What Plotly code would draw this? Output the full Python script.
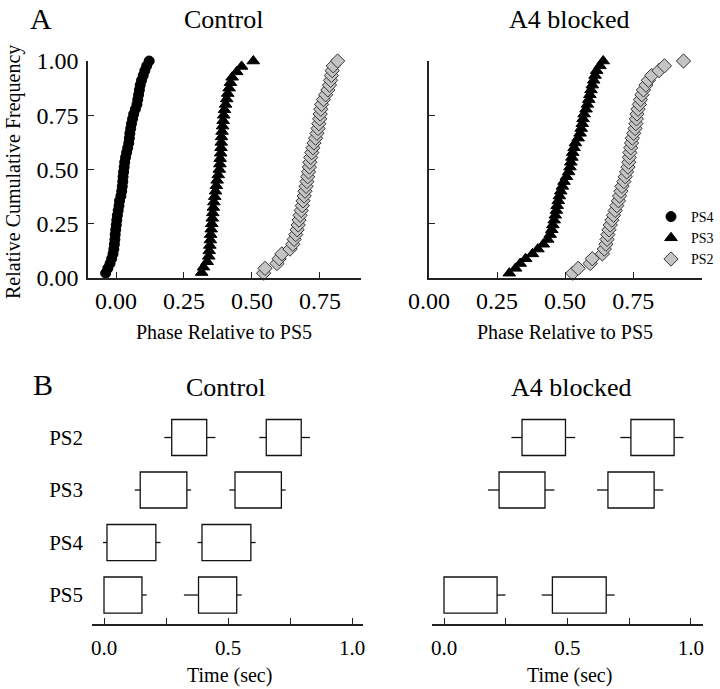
import plotly.graph_objects as go

FONT = "Liberation Serif"

# ---------------- Panel A data (phase relative to PS5) ----------------
ctrl_ps4 = [-0.038, -0.030, -0.022, -0.016, -0.011, -0.008, -0.006, -0.004, -0.003, -0.001,
            0.001, 0.003, 0.005, 0.008, 0.011, 0.013, 0.018, 0.021, 0.023, 0.025,
            0.026, 0.028, 0.030, 0.032, 0.035, 0.039, 0.043, 0.047, 0.049, 0.051,
            0.054, 0.057, 0.061, 0.065, 0.071, 0.077, 0.080, 0.083, 0.086, 0.089,
            0.094, 0.100, 0.106, 0.113, 0.122]
ctrl_ps3 = [0.315, 0.322, 0.335, 0.341, 0.343, 0.345, 0.347, 0.348, 0.350, 0.352,
            0.354, 0.356, 0.358, 0.360, 0.363, 0.366, 0.369, 0.372, 0.376, 0.380,
            0.382, 0.383, 0.385, 0.386, 0.387, 0.388, 0.390, 0.392, 0.394, 0.396,
            0.399, 0.403, 0.407, 0.411, 0.416, 0.421, 0.427, 0.444, 0.462, 0.505]
ctrl_ps2 = [0.543, 0.548, 0.592, 0.600, 0.610, 0.640, 0.650, 0.655, 0.661, 0.666,
            0.670, 0.673, 0.677, 0.681, 0.685, 0.688, 0.692, 0.695, 0.699, 0.702,
            0.705, 0.708, 0.711, 0.713, 0.716, 0.720, 0.724, 0.728, 0.734, 0.739,
            0.743, 0.746, 0.749, 0.751, 0.753, 0.756, 0.763, 0.771, 0.779, 0.785,
            0.789, 0.792, 0.795, 0.799, 0.815]
blk_ps3 = [0.295, 0.318, 0.335, 0.355, 0.380, 0.400, 0.420, 0.436, 0.445, 0.451,
           0.455, 0.460, 0.464, 0.468, 0.471, 0.475, 0.479, 0.484, 0.490, 0.496,
           0.505, 0.513, 0.518, 0.521, 0.525, 0.528, 0.533, 0.538, 0.548, 0.555,
           0.559, 0.563, 0.566, 0.570, 0.577, 0.582, 0.587, 0.591, 0.595, 0.600,
           0.605, 0.610, 0.616, 0.628, 0.640]
blk_ps2 = [0.528, 0.548, 0.592, 0.600, 0.637, 0.644, 0.650, 0.654, 0.657, 0.661,
           0.666, 0.672, 0.678, 0.684, 0.690, 0.696, 0.700, 0.705, 0.709, 0.716,
           0.721, 0.726, 0.731, 0.734, 0.736, 0.738, 0.741, 0.744, 0.747, 0.752,
           0.757, 0.760, 0.762, 0.764, 0.768, 0.773, 0.777, 0.782, 0.788, 0.797,
           0.806, 0.818, 0.845, 0.865, 0.935]

phase_ticks = [0.0, 0.25, 0.5, 0.75, 1.0]
phase_labels = ["0.00", "0.25", "0.50", "0.75", "1.00"]
freq_ticks = [0.0, 0.25, 0.5, 0.75, 1.0]
freq_labels = ["0.00", "0.25", "0.50", "0.75", "1.00"]

# ---------------- Panel B data (burst timing, sec) ----------------
row_names = ["PS2", "PS3", "PS4", "PS5"]
row_pos = {"PS2": 3, "PS3": 2, "PS4": 1, "PS5": 0}

ctrl_rows = ["PS2", "PS2", "PS3", "PS3", "PS4", "PS4", "PS5", "PS5"]
ctrl_wlo = [0.243, 0.626, 0.124, 0.505, -0.004, 0.377, 0.000, 0.322]
ctrl_lo = [0.273, 0.654, 0.146, 0.528, 0.012, 0.395, 0.000, 0.381]
ctrl_hi = [0.414, 0.795, 0.334, 0.715, 0.209, 0.592, 0.153, 0.535]
ctrl_whi = [0.449, 0.830, 0.351, 0.732, 0.228, 0.611, 0.172, 0.555]

blk_rows = ["PS2", "PS2", "PS3", "PS3", "PS5", "PS5"]
blk_wlo = [0.273, 0.714, 0.178, 0.620, 0.000, 0.396]
blk_lo = [0.316, 0.757, 0.223, 0.664, 0.000, 0.439]
blk_hi = [0.492, 0.932, 0.409, 0.851, 0.215, 0.657]
blk_whi = [0.531, 0.970, 0.447, 0.888, 0.249, 0.691]

time_ticks = [0.0, 0.25, 0.5, 0.75, 1.0]
time_labels = ["0.0", "", "0.5", "", "1.0"]

W, H = 720, 689
def px(x):
    return x / W
def py(y):
    return 1 - y / H

def ecdf(vals):
    n = len(vals)
    return [(i + 1) / n for i in range(n)]

circle = dict(symbol="circle", size=10, color="black", line=dict(color="black", width=1))
tri = dict(symbol="triangle-up", size=11, color="black", line=dict(color="black", width=1))
dia = dict(symbol="diamond", size=11, color="#c4c4c4", line=dict(color="#333333", width=1))

fig = go.Figure()

def add_cdf(vals, marker, name, xa, ya, show):
    fig.add_trace(go.Scatter(x=sorted(vals), y=ecdf(vals), mode="markers", marker=marker,
                             name=name, xaxis=xa, yaxis=ya, showlegend=show,
                             cliponaxis=False))

add_cdf(ctrl_ps4, circle, "PS4", "x", "y", True)
add_cdf(ctrl_ps3, tri, "PS3", "x", "y", True)
add_cdf(ctrl_ps2, dia, "PS2", "x", "y", True)
add_cdf(blk_ps3, tri, "PS3", "x2", "y2", False)
add_cdf(blk_ps2, dia, "PS2", "x2", "y2", False)

BOX_W = 0.686

def add_boxes(rows, wlo, lo, hi, whi, xa, ya):
    ys = [row_pos[r] for r in rows]
    fig.add_trace(go.Bar(orientation="h", y=ys, base=lo,
                         x=[h - l for h, l in zip(hi, lo)], width=BOX_W,
                         marker=dict(color="white", line=dict(color="#111111", width=1.3)),
                         xaxis=xa, yaxis=ya, showlegend=False))
    wx, wy = [], []
    for yv, a, b, c, d in zip(ys, wlo, lo, hi, whi):
        if b > a:
            wx += [a, b, None]
            wy += [yv, yv, None]
        if d > c:
            wx += [c, d, None]
            wy += [yv, yv, None]
    fig.add_trace(go.Scatter(x=wx, y=wy, mode="lines", line=dict(color="#111111", width=1.3),
                             xaxis=xa, yaxis=ya, showlegend=False, hoverinfo="skip"))

add_boxes(ctrl_rows, ctrl_wlo, ctrl_lo, ctrl_hi, ctrl_whi, "x3", "y3")
add_boxes(blk_rows, blk_wlo, blk_lo, blk_hi, blk_whi, "x4", "y4")

axis_common = dict(showline=True, linecolor="#222222", linewidth=1.5, ticks="inside",
                   ticklen=6, tickcolor="#222222", tickwidth=1.3, showgrid=False,
                   zeroline=False, automargin=False,
                   tickfont=dict(family=FONT, size=24, color="black"))

top_dom = [py(278), py(61)]
bot_dom = [py(624), py(411)]

fig.update_layout(
    width=W, height=H,
    margin=dict(l=0, r=0, t=0, b=0, autoexpand=False),
    paper_bgcolor="white", plot_bgcolor="white",
    font=dict(family=FONT, color="black"),
    barmode="overlay",
    showlegend=True,
    legend=dict(x=px(651), y=py(201), xanchor="left", yanchor="top",
                font=dict(family=FONT, size=14, color="black"),
                bgcolor="rgba(0,0,0,0)", itemwidth=30, tracegroupgap=0),
    xaxis=dict(axis_common, domain=[px(88), px(361)], range=[-0.103, 0.901], anchor="y",
               tickvals=phase_ticks[:4], ticktext=phase_labels[:4], ticklabelstandoff=0),
    yaxis=dict(axis_common, domain=top_dom, range=[0, 1], anchor="x",
               tickvals=freq_ticks, ticktext=freq_labels, ticklabelstandoff=3),
    xaxis2=dict(axis_common, domain=[px(429), px(702)], range=[0, 1.003], anchor="y2",
                tickvals=phase_ticks, ticktext=phase_labels, ticklabelstandoff=0),
    yaxis2=dict(axis_common, domain=top_dom, range=[0, 1], anchor="x2",
                tickvals=freq_ticks, showticklabels=False),
    xaxis3=dict(axis_common, domain=[px(92), px(363)], range=[-0.0484, 1.044], anchor="y3",
                tickvals=time_ticks, ticktext=time_labels, ticklabelstandoff=4,
                tickfont=dict(family=FONT, size=21, color="black")),
    yaxis3=dict(domain=bot_dom, range=[-0.552, 3.505], anchor="x3", showline=False,
                ticks="", showgrid=False, zeroline=False, automargin=False,
                tickvals=[row_pos[r] for r in row_names], ticktext=row_names,
                ticklabelstandoff=8, tickfont=dict(family=FONT, size=21, color="black")),
    xaxis4=dict(axis_common, domain=[px(432), px(703)], range=[-0.0486, 1.049], anchor="y4",
                tickvals=time_ticks, ticktext=time_labels, ticklabelstandoff=4,
                tickfont=dict(family=FONT, size=21, color="black")),
    yaxis4=dict(domain=bot_dom, range=[-0.552, 3.505], anchor="x4", showline=False,
                ticks="", showgrid=False, zeroline=False, showticklabels=False,
                automargin=False),
)

def ann(text, x, y, size, angle=0):
    fig.add_annotation(text=text, x=px(x), y=py(y), xref="paper", yref="paper",
                       showarrow=False, textangle=angle, xanchor="center", yanchor="middle",
                       font=dict(family=FONT, size=size, color="black"))

ann("A", 41, 18, 30)
ann("Control", 223, 20, 26)
ann("A4 blocked", 569, 20, 26)
ann("B", 43, 384, 30)
ann("Control", 225, 387, 26)
ann("A4 blocked", 571, 387, 26)
ann("Relative Cumulative Frequency", 13, 172, 20, angle=-90)
ann("Phase Relative to PS5", 224, 332, 20)
ann("Phase Relative to PS5", 565, 332, 20)
ann("Time (sec)", 229, 675, 20)
ann("Time (sec)", 569, 675, 20)

fig.write_html("out.html", config={"displayModeBar": False},
               post_script="document.body.style.margin='0';document.body.style.overflow='hidden';")
